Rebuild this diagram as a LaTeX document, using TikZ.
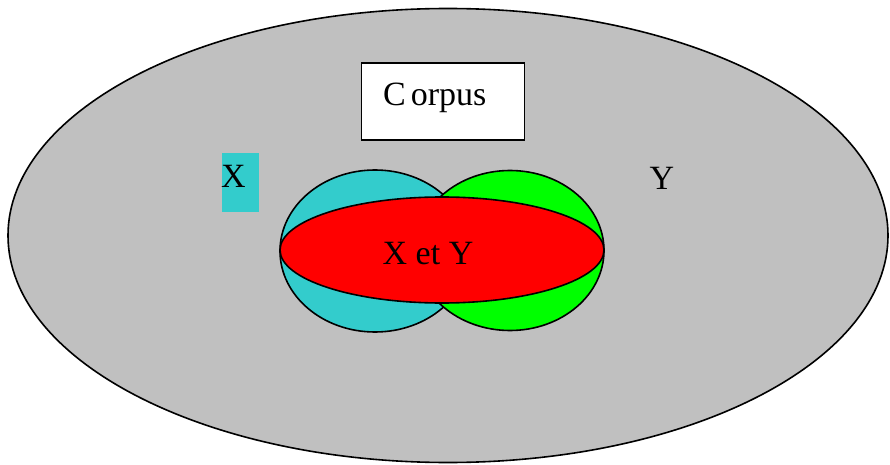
\documentclass[tikz,border=0pt]{standalone}
\usepackage{fontspec}
\setmainfont{Liberation Serif}
\begin{document}
\begin{tikzpicture}[x=1pt,y=-1pt,
  outline/.style={draw=black,line width=1.6pt},
  lbl/.style={font=\fontsize{34}{36}\selectfont,inner sep=0pt,text=black}]
\useasboundingbox (0,0) rectangle (890,465);
\definecolor{bggray}{HTML}{C0C0C0}
\definecolor{xcyan}{HTML}{33CCCC}
\definecolor{ygreen}{HTML}{00FF00}
\definecolor{xyred}{HTML}{FF0000}
% corpus ellipse
\path[outline,fill=bggray] (448,235.5) ellipse [x radius=440, y radius=227];
% X and Y sets
\path[outline,fill=xcyan] (375,251) ellipse [x radius=95, y radius=81];
\path[outline,fill=ygreen] (510,250.5) ellipse [x radius=94, y radius=80];
% intersection ellipse
\path[outline,fill=xyred] (442,250) ellipse [x radius=162, y radius=53];
% corpus box
\node[draw=black,line width=1.6pt,fill=white,minimum width=163pt,minimum height=77pt,inner sep=0pt] (corpus) at (443,101.5) {};
\node[lbl,anchor=west] (corpustxt) at (383,98) {C\kern5pt orpus};
% X label
\node[fill=xcyan,minimum width=37pt,minimum height=59pt,inner sep=0pt] (xbox) at (240.5,182.5) {};
\node[lbl] (xlbl) at (233.5,176) {X};
% Y label
\node[lbl] (ylbl) at (662,178) {Y};
% X et Y
\node[lbl] (xy) at (428,254) {X et Y};
\end{tikzpicture}
\end{document}
